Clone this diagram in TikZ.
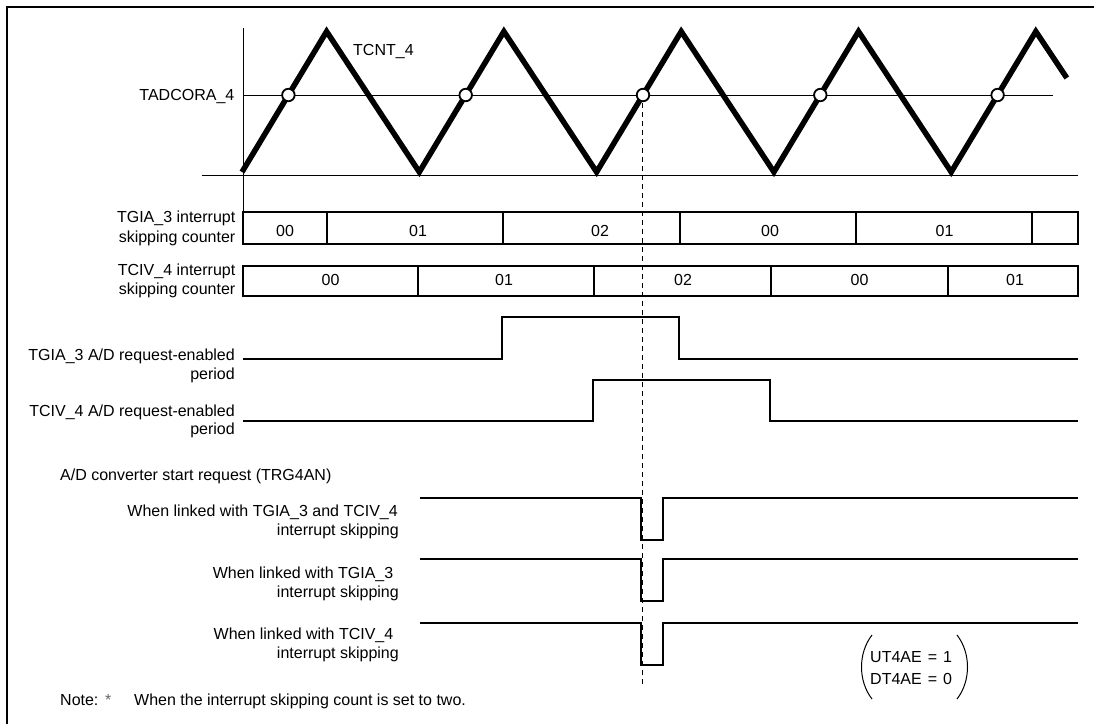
\documentclass[tikz,border=0pt]{standalone}
\usepackage{fontspec}
\setmainfont{Liberation Sans}
\begin{document}
\begin{tikzpicture}[x=1pt,y=-1pt,
  lbl/.style={inner sep=0pt, font=\fontsize{16}{19}\selectfont},
  thinline/.style={line width=1pt},
  sig/.style={line width=2pt, line join=miter},
  cbox/.style={line width=2pt},
  wave/.style={line width=5.5pt, line join=miter, line cap=butt},
  pt/.style={circle, draw, fill=white, line width=1.8pt, minimum size=12.5pt, inner sep=0pt}
]
\useasboundingbox (0,0) rectangle (1094,724);
% frame (only left and top visible)
\draw[line width=2.5pt] (7,724) -- (7,7) -- (1094,7);

% axes
\draw[thinline] (243.3,28) -- (243.3,212.3);
\draw[thinline] (201.5,175) -- (1078,175);
\draw[thinline] (243.3,95) -- (1053,95);
\node[lbl, anchor=base east] (tadcora) at (234.5,100.8) {TADCORA\_4};
\node[lbl, anchor=base west] (tcnt) at (353,55.8) {TCNT\_4};

% triangle wave
\draw[wave] (242,172) -- (326.6,31.5) -- (419.3,172) -- (503.9,31.5) -- (596.6,172)
  -- (681.2,31.5) -- (773.9,172) -- (858.5,31.5) -- (951.2,172) -- (1035.8,31.5) -- (1066.8,78);
\node[pt] (m1) at (288.4,95) {};
\node[pt] (m2) at (465.7,95) {};
\node[pt] (m3) at (643,95) {};
\node[pt] (m4) at (820.3,95) {};
\node[pt] (m5) at (997.6,95) {};

% dashed reference line
\coordinate (dend) at (642.5,685);
\draw[thinline, dash pattern=on 5pt off 4pt] (m3.south) ++(-0.5,1) -- (dend);

% TGIA_3 counter
\node[lbl, anchor=base east] (c1a) at (235.5,222) {TGIA\_3 interrupt};
\node[lbl, anchor=base east] (c1b) at (235.5,242) {skipping counter};
\draw[cbox] (243.3,212.3) rectangle (1078,244);
\foreach \x in {326.6,503,679.6,855.5,1032} \draw[cbox] (\x,212.3) -- (\x,244);
\node[lbl, anchor=base] (v11) at (285,236) {00};
\node[lbl, anchor=base] (v12) at (418,236) {01};
\node[lbl, anchor=base] (v13) at (600,236) {02};
\node[lbl, anchor=base] (v14) at (770,236) {00};
\node[lbl, anchor=base] (v15) at (944.5,236) {01};

% TCIV_4 counter
\node[lbl, anchor=base east] (c2a) at (235.5,275) {TCIV\_4 interrupt};
\node[lbl, anchor=base east] (c2b) at (235.5,294.5) {skipping counter};
\draw[cbox] (243.3,266) rectangle (1078,296);
\foreach \x in {418,594,771,948} \draw[cbox] (\x,266) -- (\x,296);
\node[lbl, anchor=base] (v21) at (330.5,285) {00};
\node[lbl, anchor=base] (v22) at (504,285) {01};
\node[lbl, anchor=base] (v23) at (683,285) {02};
\node[lbl, anchor=base] (v24) at (859.5,285) {00};
\node[lbl, anchor=base] (v25) at (1015,285) {01};

% enabled periods
\node[lbl, anchor=base east] (e1a) at (235,360.5) {TGIA\_3 A/D request-enabled};
\node[lbl, anchor=base east] (e1b) at (235,379) {period};
\draw[sig] (243,359.3) -- (502.3,359.3) -- (502.3,316.7) -- (679,316.7) -- (679,359.3) -- (1078,359.3);
\node[lbl, anchor=base east] (e2a) at (235,416) {TCIV\_4 A/D request-enabled};
\node[lbl, anchor=base east] (e2b) at (235,434.5) {period};
\draw[sig] (243,420.7) -- (592.7,420.7) -- (592.7,380) -- (770,380) -- (770,420.7) -- (1078,420.7);

% A/D start requests
\node[lbl, anchor=base west] (adc) at (60,480.5) {A/D converter start request (TRG4AN)};
\node[lbl, anchor=base east] (p1a) at (398,516.5) {When linked with TGIA\_3 and TCIV\_4};
\node[lbl, anchor=base east] (p1b) at (399,535.5) {interrupt skipping};
\draw[sig] (420,497.7) -- (641.3,497.7) -- (641.3,540) -- (662.7,540) -- (662.7,497.7) -- (1078,497.7);
\node[lbl, anchor=base east] (p2a) at (393.5,578) {When linked with TGIA\_3};
\node[lbl, anchor=base east] (p2b) at (399,597) {interrupt skipping};
\draw[sig] (420,559) -- (641.3,559) -- (641.3,601) -- (662.7,601) -- (662.7,559) -- (1078,559);
\node[lbl, anchor=base east] (p3a) at (393.5,639.5) {When linked with TCIV\_4};
\node[lbl, anchor=base east] (p3b) at (399,658.5) {interrupt skipping};
\draw[sig] (420,623) -- (641.3,623) -- (641.3,665) -- (662.7,665) -- (662.7,623) -- (1078,623);

% condition in parentheses
\node[lbl, anchor=base west] (ut) at (870,662.5) {UT4AE\hspace{6pt}=\hspace{6pt}1};
\node[lbl, anchor=base west] (dt) at (870,684) {DT4AE\hspace{6pt}=\hspace{6pt}0};
\draw[thinline] (872,635) .. controls (858,653) and (858,681) .. (872,699);
\draw[thinline] (957,635) .. controls (971,653) and (971,681) .. (957,699);

% note
\node[lbl, anchor=base west] (note) at (60,705) {Note:};
\node[lbl, anchor=base west, text=black!60] (ast) at (105,705) {*};
\node[lbl, anchor=base west] (notetxt) at (134,705) {When the interrupt skipping count is set to two.};
\end{tikzpicture}
\end{document}
